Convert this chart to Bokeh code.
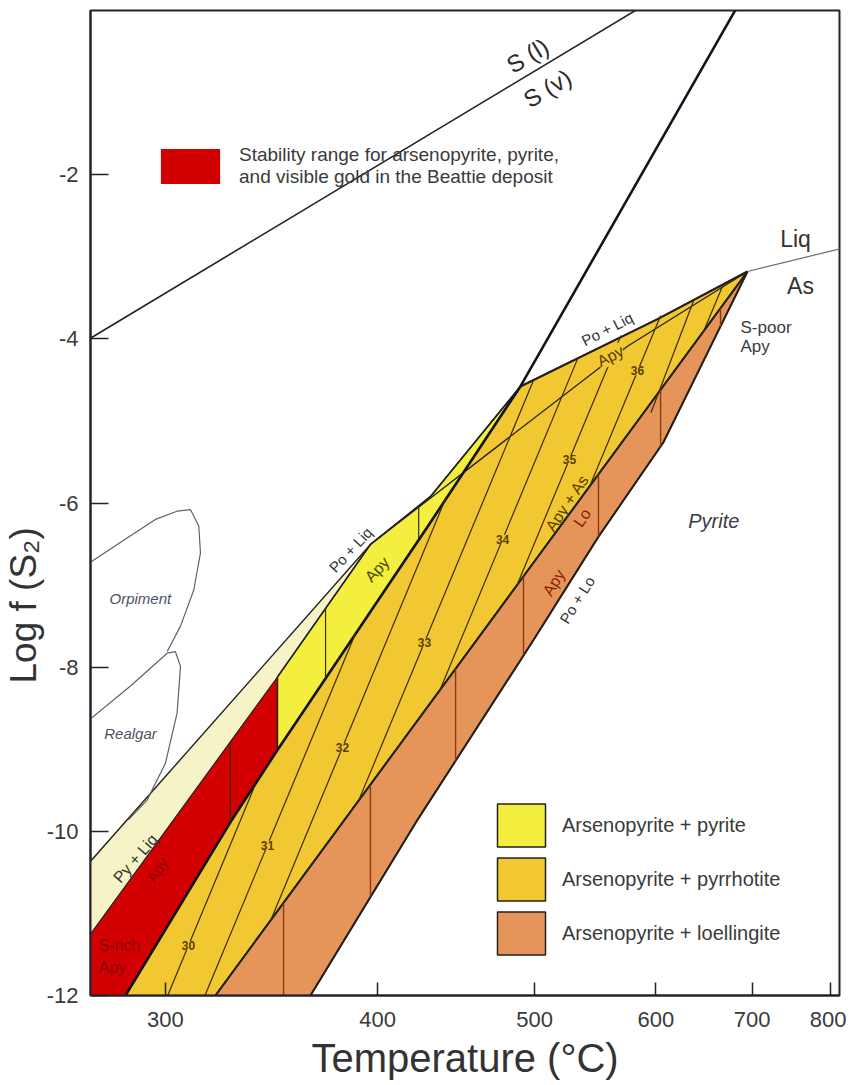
import math
from bokeh.plotting import figure
from bokeh.models import Range1d, FixedTicker, CustomJSTickFormatter, Label, Legend, LegendItem, Title
from bokeh.embed import file_html
from bokeh.resources import INLINE

FONT = "Liberation Sans"

# ---------------- data: temperature (°C) and log f(S2) ----------------
tick_T = [300, 400, 500, 600, 700, 800]
tick_L = [-12, -10, -8, -6, -4, -2]
T_min, T_max = 271.4, 812.8
L_min, L_max = -12.0, 0.0

sulfur_T = [271.0, 585.0]
sulfur_L = [-4.00, 0.03]

pypo_T = [682.2, 489.7, 428.9, 348.8, 327.3, 284.4]
pypo_L = [0.03, -4.58, -6.29, -9.01, -9.89, -12.0]

liq_T = [271.0, 396.1, 430.7, 489.7]
liq_L = [-10.38, -6.505, -5.92, -4.58]

inner_T = [396.1, 473.7, 574.3, 694.6]
inner_L = [-6.505, -5.31, -4.09, -3.18]

apy_T = [271.0, 348.8, 396.1]
apy_L = [-11.27, -8.12, -6.505]

top_T = [489.7, 601.5, 694.6]
top_L = [-4.58, -3.76, -3.18]

lo_T = [694.6, 648.8, 607.1, 549.6, 499.1, 422.9, 364.8]
lo_L = [-3.18, -4.22, -5.26, -6.41, -7.67, -9.86, -12.0]

lobnd_T = [320.8, 694.6]
lobnd_L = [-12.0, -3.18]

liqas_T = [694.6, 815.0]
liqas_L = [-3.18, -2.90]

cream_T = [271.0, 396.1, 430.7, 489.7, 428.9, 348.8, 327.3, 284.4, 271.0]
cream_L = [-10.38, -6.505, -5.92, -4.58, -6.29, -9.01, -9.89, -12.0, -12.0]
red_T = [271.0, 348.8, 348.8, 327.3, 284.4, 271.0]
red_L = [-11.27, -8.12, -9.01, -9.89, -12.0, -12.0]
yellow_T = [348.8, 396.1, 430.7, 489.7, 428.9, 348.8]
yellow_L = [-8.12, -6.505, -5.92, -4.58, -6.29, -9.01]
gold_T = [489.7, 601.5, 694.6, 320.8, 284.4, 327.3, 348.8, 428.9]
gold_L = [-4.58, -3.76, -3.18, -12.0, -12.0, -9.89, -9.01, -6.29]
orange_T = [320.8, 694.6, 648.8, 607.1, 549.6, 499.1, 422.9, 364.8]
orange_L = [-12.0, -3.18, -4.22, -5.26, -6.41, -7.67, -9.86, -12.0]

# composition isopleths (at.% As)
iso_lo_T = [300.9, 316.3, 345.7, 389.8, 436.2, 487.3, 542.0, 595.4, 646.5]
iso_lo_L = [-12.0, -12.0, -11.08, -9.62, -8.29, -7.00, -5.81, -4.90, -3.92]
iso_hi_T = [338.8, 388.0, 440.5, 499.5, 533.3, 568.6, 604.4, 636.5, 666.8]
iso_hi_L = [-9.41, -7.59, -5.92, -4.49, -4.22, -3.96, -3.72, -3.54, -3.36]
iso_labels = ["30", "31", "32", "33", "34", "35", "36"]
iso_lab_T = [309.4, 344.1, 381.1, 427.1, 477.2, 526.3, 583.2]
iso_lab_L = [-11.39, -10.17, -8.98, -7.70, -6.44, -5.47, -4.39]

# short isothermal tie segments
tie_dark_T = [327.3, 372.4, 423.6]
tie_dark_lo = [-9.89, -8.14, -6.44]
tie_dark_hi = [-8.91, -7.29, -6.04]
tie_brown_T = [351.7, 396.1, 446.2, 491.9, 549.6, 604.4, 664.7]
tie_brown_lo = [-12.0, -10.80, -9.14, -7.85, -6.41, -5.31, -3.85]
tie_brown_hi = [-10.88, -9.44, -8.02, -6.90, -5.65, -4.63, -3.63]

orp_T = [271.0, 286.3, 296.0, 304.7, 310.2, 313.7, 314.4, 311.6, 306.1, 300.7]
orp_L = [-6.73, -6.40, -6.20, -6.10, -6.08, -6.28, -6.61, -7.06, -7.50, -7.81]
real_T = [271.0, 286.3, 300.7, 304.0, 306.1, 304.7, 300.0, 292.7, 285.5]
real_L = [-8.64, -8.23, -7.83, -7.81, -7.99, -8.56, -9.17, -9.62, -9.86]

C_CREAM, C_RED, C_YEL, C_GOLD, C_ORG = "#f6f3c6", "#d20000", "#f4ee3e", "#f1c832", "#e6955a"
C_LINE = "#24201c"


def rx(T):
    return [1000.0 / (t + 273.15) for t in T]


x0, x1 = 1000.0 / (T_min + 273.15), 1000.0 / (T_max + 273.15)
FW, FH = 749, 985

p = figure(frame_width=FW, frame_height=FH, x_range=Range1d(x0, x1), y_range=Range1d(L_min, L_max),
           output_backend="svg", toolbar_location=None,
           min_border_left=90, min_border_right=7, min_border_top=10, min_border_bottom=10)
p.grid.visible = False
p.outline_line_color = "#23232f"
p.outline_line_width = 2
p.background_fill_color = "white"
p.border_fill_color = "white"

xa, ya = p.xaxis[0], p.yaxis[0]
xa.ticker = FixedTicker(ticks=rx(tick_T))
xa.formatter = CustomJSTickFormatter(code="return Math.round(1000/tick - 273.15).toString();")
ya.ticker = FixedTicker(ticks=tick_L)
ya.formatter = CustomJSTickFormatter(code="return tick.toFixed(0);")
for ax, tin in ((xa, 13), (ya, 18)):
    ax.axis_line_width = 2
    ax.axis_line_color = "#23232f"
    ax.major_tick_in = tin
    ax.major_tick_out = 0
    ax.minor_tick_in = 0
    ax.minor_tick_out = 0
    ax.major_tick_line_width = 1.5
    ax.major_tick_line_color = "#23232f"
    ax.major_label_text_font = FONT
    ax.major_label_text_font_size = "22px"
    ax.major_label_text_color = "#3a3a3a"
    ax.major_label_standoff = 12
xa.major_label_standoff = 16
xa.axis_label = "Temperature (°C)"
xa.axis_label_text_font = FONT
xa.axis_label_text_font_size = "40px"
xa.axis_label_text_font_style = "normal"
xa.axis_label_text_color = "#333333"
xa.axis_label_standoff = 6

p.add_layout(Title(text="Log f (S₂)", align="left", offset=312, standoff=0, text_font=FONT,
                   text_font_size="37px", text_font_style="normal", text_color="#333333"), "left")

# ---------------- fields ----------------
p.patch(rx(cream_T), cream_L, fill_color=C_CREAM, line_color=None)
r_red = p.patch(rx(red_T), red_L, fill_color=C_RED, line_color=None)
r_yel = p.patch(rx(yellow_T), yellow_L, fill_color=C_YEL, line_color=C_LINE, line_width=1.5)
r_gold = p.patch(rx(gold_T), gold_L, fill_color=C_GOLD, line_color=C_LINE, line_width=1.5)
r_org = p.patch(rx(orange_T), orange_L, fill_color=C_ORG, line_color=C_LINE, line_width=1.5)

# ---------------- boundaries ----------------
p.line(rx(sulfur_T), sulfur_L, line_color=C_LINE, line_width=1.6)
p.line(rx(liq_T), liq_L, line_color=C_LINE, line_width=1.4)
p.line(rx(inner_T), inner_L, line_color=C_LINE, line_width=1.3)
p.line(rx(apy_T), apy_L, line_color=C_LINE, line_width=1.2)
p.line(rx(top_T), top_L, line_color=C_LINE, line_width=2.2)
p.line(rx(lobnd_T), lobnd_L, line_color=C_LINE, line_width=2.0)
p.line(rx(lo_T), lo_L, line_color=C_LINE, line_width=2.0)
p.line(rx(pypo_T), pypo_L, line_color="#141420", line_width=2.6)
p.line(rx(liqas_T), liqas_L, line_color="#6a6a72", line_width=1.2)
p.line(rx(orp_T), orp_L, line_color="#5a6372", line_width=1.2)
p.line(rx(real_T), real_L, line_color="#5a6372", line_width=1.2)
p.segment(rx(iso_lo_T), iso_lo_L, rx(iso_hi_T), iso_hi_L, line_color="#3a2c08", line_width=1.2)
p.segment(rx(tie_dark_T), tie_dark_lo, rx(tie_dark_T), tie_dark_hi, line_color="#3a2c08", line_width=1.2)
p.segment(rx(tie_brown_T), tie_brown_lo, rx(tie_brown_T), tie_brown_hi, line_color="#8a3a10", line_width=1.4)


def lab(text, T, L, size, color="#333333", angle=0, style="normal", align="center", bg=None):
    p.add_layout(Label(x=1000.0 / (T + 273.15), y=L, text=text, text_font=FONT,
                       text_font_size=f"{size}px", text_color=color, angle=math.radians(angle),
                       text_font_style=style, text_align=align, text_baseline="middle",
                       background_fill_color=bg))


for t, T, L in zip(iso_labels, iso_lab_T, iso_lab_L):
    lab(t, T, L, 12, "#5a3c00", 0, "bold", bg=C_GOLD)

lab("S (l)", 494.8, -0.55, 24, "#2a2a2a", 31)
lab("S (v)", 509.4, -0.95, 24, "#2a2a2a", 31)
lab("Liq", 752.9, -2.78, 23, "#333333")
lab("As", 759.3, -3.36, 23, "#333333")
lab("S-poor", 686.7, -3.86, 17, "#3a3a3a", align="left")
lab("Apy", 686.7, -4.09, 17, "#3a3a3a", align="left")
lab("Pyrite", 657.5, -6.22, 20, "#3a3a44", style="italic")
lab("Orpiment", 290.1, -7.16, 15, "#4a5262", style="italic")
lab("Realgar", 286.3, -8.81, 15, "#4a5262", style="italic")
lab("Po + Liq", 556.9, -3.88, 15, "#333333", 27)
lab("Apy", 559.6, -4.21, 16, "#5a3c00", 27, bg=C_GOLD)
lab("Po + Liq", 385.4, -6.57, 15, "#333333", 47)
lab("Apy", 399.8, -6.81, 16, "#4a4a00", 47)
lab("Py + Liq", 288.2, -10.33, 16, "#333333", 49)
lab("Apy", 296.7, -10.47, 15, "#8b0000", 55)
lab("S-rich", 274.4, -11.39, 16, "#8b0000", align="left")
lab("Apy", 274.4, -11.66, 16, "#8b0000", align="left")
lab("Apy + As", 524.5, -6.00, 16, "#5a3c00", 56)
lab("Lo", 536.3, -6.18, 16, "#8b2000", 56)
lab("Apy", 514.2, -6.97, 16, "#8b2000", 58)
lab("Po + Lo", 532.3, -7.18, 15, "#333333", 58)

# ---------------- legends ----------------
leg1 = Legend(items=[LegendItem(label="Stability range for arsenopyrite, pyrite,\nand visible gold in the Beattie deposit",
                                renderers=[r_red])],
              location=(63, 807), glyph_width=74, glyph_height=44, label_standoff=12)
leg2 = Legend(items=[LegendItem(label="Arsenopyrite + pyrite", renderers=[r_yel]),
                     LegendItem(label="Arsenopyrite + pyrrhotite", renderers=[r_gold]),
                     LegendItem(label="Arsenopyrite + loellingite", renderers=[r_org])],
              location=(401, 35), glyph_width=60, glyph_height=54, spacing=0, label_standoff=11)
for lg, fs in ((leg1, "19px"), (leg2, "20px")):
    lg.padding = 0
    lg.margin = 0
    lg.border_line_alpha = 0
    lg.background_fill_alpha = 0
    lg.label_text_font = FONT
    lg.label_text_font_size = fs
    lg.label_text_color = "#3a3a3a"
    p.add_layout(lg)

open("out.html", "w").write(file_html(p, INLINE))
